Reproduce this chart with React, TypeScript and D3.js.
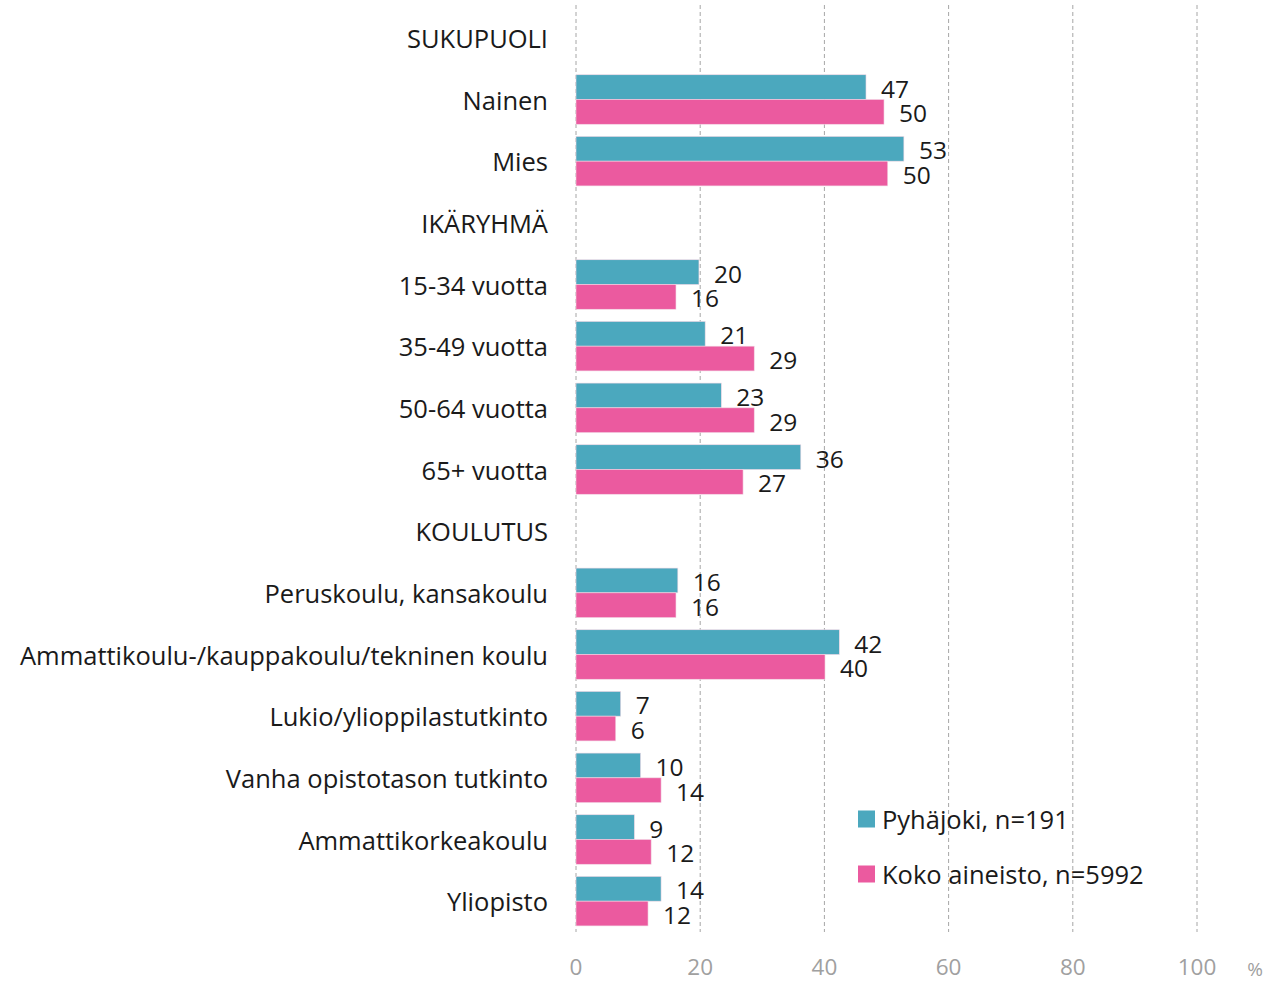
import React from 'react';
import * as d3 from 'd3';

// rows, top to bottom; headers have no bars
const categories = [
  'SUKUPUOLI',
  'Nainen',
  'Mies',
  'IKÄRYHMÄ',
  '15-34 vuotta',
  '35-49 vuotta',
  '50-64 vuotta',
  '65+ vuotta',
  'KOULUTUS',
  'Peruskoulu, kansakoulu',
  'Ammattikoulu-/kauppakoulu/tekninen koulu',
  'Lukio/ylioppilastutkinto',
  'Vanha opistotason tutkinto',
  'Ammattikorkeakoulu',
  'Yliopisto',
];
const headers = ['SUKUPUOLI', 'IKÄRYHMÄ', 'KOULUTUS'];

const seriesNames = ['Pyhäjoki, n=191', 'Koko aineisto, n=5992'];
const pyhajoki = [null, 46.7, 52.8, null, 19.8, 20.8, 23.4, 36.2, null, 16.4, 42.4, 7.2, 10.4, 9.4, 13.7];
const kokoAineisto = [null, 49.6, 50.2, null, 16.1, 28.7, 28.7, 26.9, null, 16.1, 40.1, 6.4, 13.7, 12.1, 11.6];

const xTicks = [0, 20, 40, 60, 80, 100];

const COLORS = ['#4BA8BE', '#EB5A9F'];
const FONT = '"Open Sans", "Noto Sans", sans-serif';
const FS = 25.5;

const W = 1269;
const H = 981;

export default function App() {
  const x = d3.scaleLinear().domain([0, 100]).range([576, 1197]);
  const y = d3.scaleBand<string>().domain(categories).range([7, 932]).paddingInner(0);
  const inner = d3.scaleBand<number>().domain([0, 1]).range([0, 49.5]);
  const series = [pyhajoki, kokoAineisto];

  return (
    <div style={{ position: 'absolute', left: 0, top: 0 }}>
      <svg width={W} height={H} style={{ display: 'block', background: '#fff' }}>
        {/* grid */}
        {xTicks.map(t => (
          <g key={t}>
            <line x1={x(t)} x2={x(t)} y1={5} y2={932} stroke="#a6a6a6" strokeWidth={1} strokeDasharray="4,3" />
            <text x={x(t)} y={966} textAnchor="middle" dominantBaseline="central" fill="#a0a0a0" fontFamily={FONT} fontSize={22.5}>{t}</text>
          </g>
        ))}
        <text x={1255} y={969} textAnchor="middle" dominantBaseline="central" fill="#a0a0a0" fontFamily={FONT} fontSize={19}>%</text>

        {/* category labels */}
        {categories.map(c => (
          <text key={c} x={548} y={y(c)! + y.bandwidth() / 2} textAnchor="end" dominantBaseline="central" fill="#1a1a1a" fontFamily={FONT} fontSize={FS}>
            {c}
          </text>
        ))}

        {/* bars */}
        {series.map((vals, s) =>
          categories.map((c, i) => {
            const v = vals[i];
            if (v == null || headers.includes(c)) return null;
            const cy = y(c)! + y.bandwidth() / 2 - 24.75;
            const by = cy + inner(s)!;
            return (
              <g key={`${s}-${c}`}>
                <rect x={x(0)} y={by} width={x(v) - x(0)} height={inner.bandwidth()} fill={COLORS[s]} stroke="#f2d8e4" strokeWidth={0.6} />
                <text x={x(v) + 15} y={by + inner.bandwidth() / 2 + 1} dominantBaseline="central" fill="#1a1a1a" fontFamily={FONT} fontSize={24.5}>
                  {Math.round(v)}
                </text>
              </g>
            );
          })
        )}

        {/* legend */}
        {seriesNames.map((n, s) => (
          <g key={n} transform={`translate(858, ${819 + s * 55})`}>
            <rect x={0} y={-8.5} width={17} height={17} fill={COLORS[s]} />
            <text x={24} y={0} dominantBaseline="central" fill="#1a1a1a" fontFamily={FONT} fontSize={FS}>{n}</text>
          </g>
        ))}
      </svg>
    </div>
  );
}
